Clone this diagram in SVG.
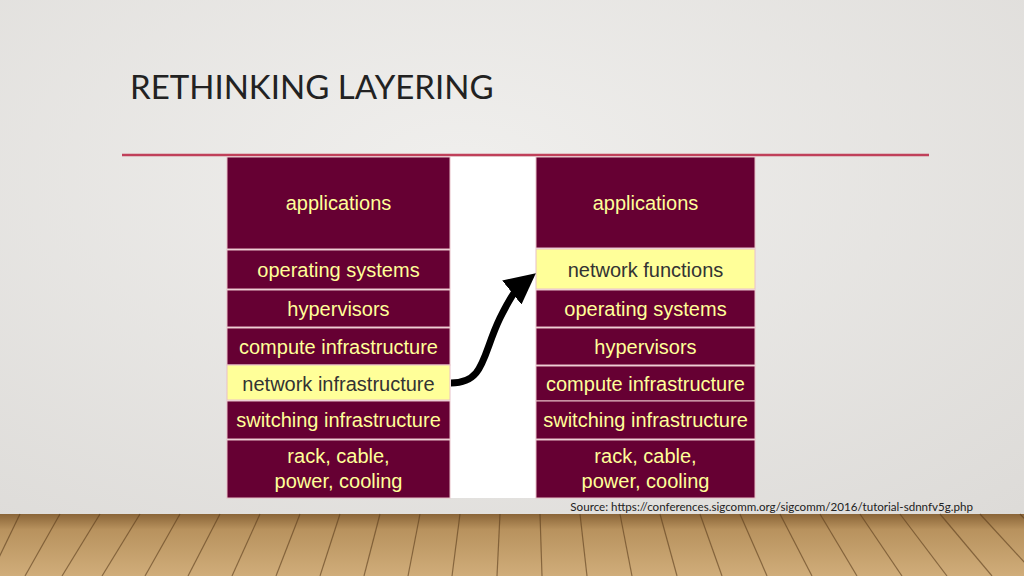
<svg xmlns="http://www.w3.org/2000/svg" width="1024" height="576" viewBox="0 0 1024 576">
<defs>
<radialGradient id="bg" cx="0.45" cy="0.3" r="0.8"><stop offset="0" stop-color="#f0efed"/><stop offset="1" stop-color="#dddbd8"/></radialGradient>
<linearGradient id="floor" x1="0" y1="0" x2="0" y2="1"><stop offset="0" stop-color="#8a6538"/><stop offset="0.25" stop-color="#b8925e"/><stop offset="1" stop-color="#d0ad7a"/></linearGradient>
<marker id="ah" markerWidth="4.4" markerHeight="4.4" refX="1.5" refY="2.2" orient="auto" markerUnits="strokeWidth"><path d="M0,0 L4.4,2.2 L0,4.4 z" fill="#000"/></marker>
</defs>
<style>
.b{fill:#660033;stroke:#e8c0c8;stroke-width:1}
.y{fill:#ffff99;stroke:#e8c0c8;stroke-width:1}
.t{font-family:Arial,"Liberation Sans",sans-serif;font-size:20px;fill:#ffff99;text-anchor:middle}
.ty{font-family:Arial,"Liberation Sans",sans-serif;font-size:20px;fill:#333;text-anchor:middle}
.pl{stroke:#5a3c1c;stroke-width:1.2;opacity:0.6}
</style>
<rect width="1024" height="576" fill="url(#bg)"/>
<rect x="0" y="514" width="1024" height="62" fill="url(#floor)"/>
<g class="pl">
<line x1="20" y1="514" x2="-10" y2="576"/><line x1="60" y1="514" x2="25" y2="576"/><line x1="100" y1="514" x2="62" y2="576"/><line x1="140" y1="514" x2="102" y2="576"/><line x1="180" y1="514" x2="145" y2="576"/><line x1="220" y1="514" x2="188" y2="576"/><line x1="260" y1="514" x2="232" y2="576"/><line x1="300" y1="514" x2="276" y2="576"/><line x1="340" y1="514" x2="320" y2="576"/><line x1="380" y1="514" x2="364" y2="576"/><line x1="420" y1="514" x2="408" y2="576"/><line x1="460" y1="514" x2="452" y2="576"/><line x1="500" y1="514" x2="497" y2="576"/><line x1="540" y1="514" x2="542" y2="576"/><line x1="580" y1="514" x2="587" y2="576"/><line x1="620" y1="514" x2="632" y2="576"/><line x1="660" y1="514" x2="677" y2="576"/><line x1="700" y1="514" x2="722" y2="576"/><line x1="740" y1="514" x2="767" y2="576"/><line x1="780" y1="514" x2="812" y2="576"/><line x1="820" y1="514" x2="857" y2="576"/><line x1="860" y1="514" x2="902" y2="576"/><line x1="900" y1="514" x2="947" y2="576"/><line x1="940" y1="514" x2="992" y2="576"/><line x1="980" y1="514" x2="1037" y2="576"/><line x1="1020" y1="514" x2="1080" y2="576"/>
</g>
<text x="130" y="99" font-family="Lato,'Open Sans',sans-serif" font-size="33" fill="#222">RETHINKING LAYERING</text>
<line x1="122" y1="155" x2="929" y2="155" stroke="#c0405a" stroke-width="2.5"/>
<rect x="227" y="157" width="528" height="341" fill="#fff"/>
<g id="left">
<g id="l1"><rect class="b" x="227" y="157" width="223" height="92"/><text class="t" x="338.5" y="210">applications</text></g>
<g id="l2"><rect class="b" x="227" y="250" width="223" height="39"/><text class="t" x="338.5" y="277">operating systems</text></g>
<g id="l3"><rect class="b" x="227" y="290" width="223" height="37"/><text class="t" x="338.5" y="316">hypervisors</text></g>
<g id="l4"><rect class="b" x="227" y="328" width="223" height="37"/><text class="t" x="338.5" y="354">compute infrastructure</text></g>
<g id="l5"><rect class="y" x="227" y="365" width="223" height="35"/><text class="ty" x="338.5" y="391">network infrastructure</text></g>
<g id="l6"><rect class="b" x="227" y="401" width="223" height="38"/><text class="t" x="338.5" y="427">switching infrastructure</text></g>
<g id="l7"><rect class="b" x="227" y="440" width="223" height="58"/><text class="t" x="338.5" y="463">rack, cable,</text><text class="t" x="338.5" y="488">power, cooling</text></g>
</g>
<g id="right">
<g id="r1"><rect class="b" x="536" y="157" width="219" height="91"/><text class="t" x="645.5" y="210">applications</text></g>
<g id="r2"><rect class="y" x="536" y="249" width="219" height="40"/><text class="ty" x="645.5" y="277">network functions</text></g>
<g id="r3"><rect class="b" x="536" y="290" width="219" height="37"/><text class="t" x="645.5" y="316">operating systems</text></g>
<g id="r4"><rect class="b" x="536" y="328" width="219" height="37"/><text class="t" x="645.5" y="354">hypervisors</text></g>
<g id="r5"><rect class="b" x="536" y="366" width="219" height="35"/><text class="t" x="645.5" y="391">compute infrastructure</text></g>
<g id="r6"><rect class="b" x="536" y="401" width="219" height="38"/><text class="t" x="645.5" y="427">switching infrastructure</text></g>
<g id="r7"><rect class="b" x="536" y="440" width="219" height="58"/><text class="t" x="645.5" y="463">rack, cable,</text><text class="t" x="645.5" y="488">power, cooling</text></g>
</g>
<g id="connectors">
<path d="M451,383 C485,383 482,355 500,318 C510,298 515,290 520,286" fill="none" stroke="#000" stroke-width="7" marker-end="url(#ah)"/>
</g>
<text x="973" y="511" text-anchor="end" font-family="Lato,sans-serif" font-size="11.6" fill="#222">Source: https://conferences.sigcomm.org/sigcomm/2016/tutorial-sdnnfv5g.php</text>
</svg>
